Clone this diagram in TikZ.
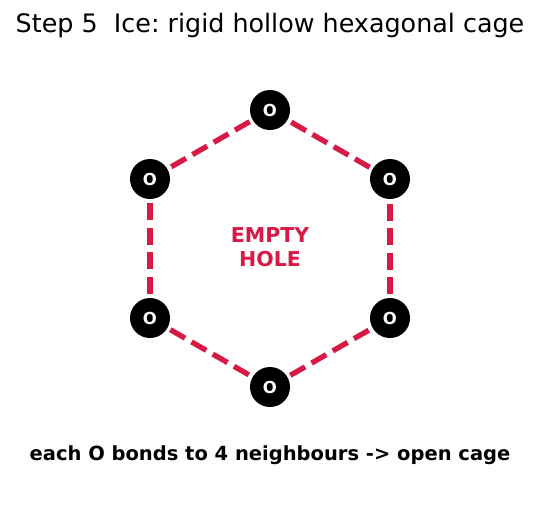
\documentclass[tikz,border=0pt]{standalone}
\usepackage{fontspec}
\setmainfont{DejaVu Sans}
\usetikzlibrary{backgrounds}
\definecolor{cagered}{RGB}{215, 25, 70}
\frenchspacing

\begin{document}
\begin{tikzpicture}[x=1pt, y=-1pt,
  oatom/.style={circle, fill=black, minimum size=40pt, inner sep=0pt,
    text=white, font=\fontsize{16.5}{16.5}\selectfont\bfseries},
  hbond/.style={cagered, line width=5.3pt, dash pattern=on 17pt off 7.5pt}]

\useasboundingbox (0,0) rectangle (539,512);

% === Titulo ===
\node[font=\fontsize{25.4}{25.4}\selectfont] (title) at (270,25)
  {Step 5~~Ice: rigid hollow hexagonal cage};

% === Atomos de oxigeno ===
\node[oatom] (otop)    at (270,110) {O};
\node[oatom] (oright)  at (390,179) {O};
\node[oatom] (olright) at (390,318) {O};
\node[oatom] (obottom) at (270,387) {O};
\node[oatom] (olleft)  at (150,318) {O};
\node[oatom] (oleft)   at (150,179) {O};

% === Enlaces de hidrogeno ===
\begin{scope}[on background layer]
    \draw[hbond] (oleft.center) -- (otop.center);
    \draw[hbond] (otop.center) -- (oright.center);
    \draw[hbond] (oright.center) -- (olright.center);
    \draw[hbond] (olright.center) -- (obottom.center);
    \draw[hbond] (obottom.center) -- (olleft.center);
    \draw[hbond] (olleft.center) -- (oleft.center);
\end{scope}

% === Hueco ===
\node[text=cagered, align=center, font=\fontsize{20.5}{24}\selectfont\bfseries]
  (hole) at (270,247) {EMPTY\\HOLE};

% === Nota ===
\node[font=\fontsize{19.5}{19.5}\selectfont\bfseries] (note) at (270,455)
  {each O bonds to 4 neighbours -> open cage};

\end{tikzpicture}
\end{document}
